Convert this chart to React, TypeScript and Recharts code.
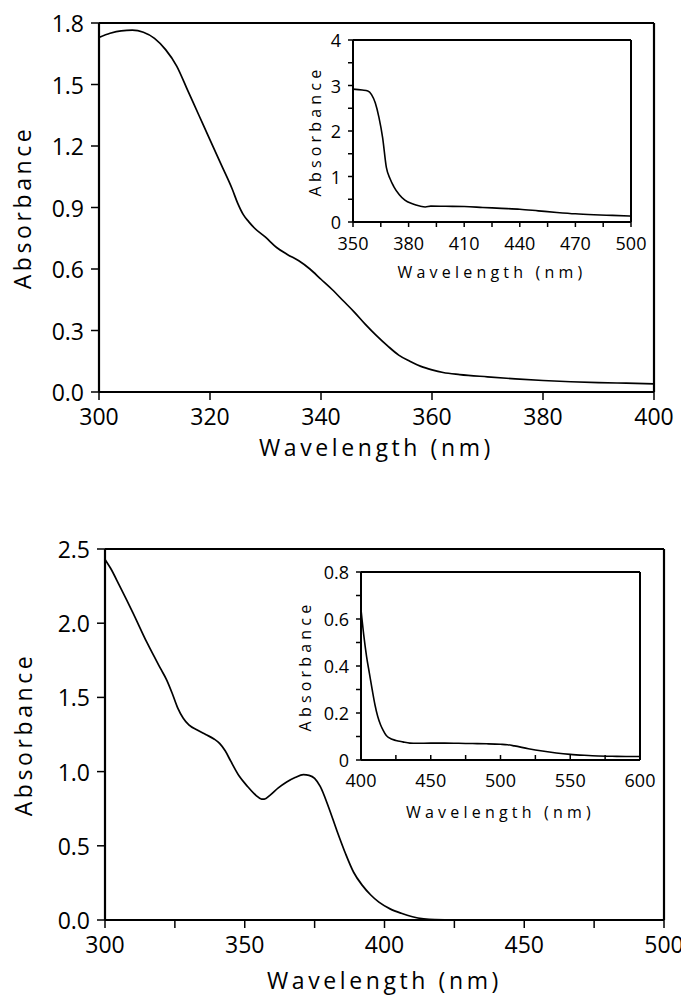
import React from 'react';
import { LineChart, Line, XAxis, YAxis, Label } from 'recharts';

const FONT = '"Open Sans", "Noto Sans", "DejaVu Sans", sans-serif';
const PAGE_W = 681;
const PAGE_H = 996;

// ---------- Panel A (top) main spectrum ----------
const mainAWavelength = [300, 302, 304, 306, 308, 310, 312, 314, 316, 318, 320, 322, 324, 325, 326, 327, 328, 330, 332, 334, 336, 338, 340, 342, 344, 346, 348, 350, 352, 354, 356, 358, 360, 362, 365, 370, 375, 380, 385, 390, 395, 400];
const mainAAbsorbance = [1.73, 1.75, 1.762, 1.765, 1.755, 1.725, 1.67, 1.59, 1.47, 1.35, 1.23, 1.11, 0.99, 0.92, 0.865, 0.83, 0.8, 0.755, 0.705, 0.67, 0.64, 0.6, 0.55, 0.5, 0.445, 0.39, 0.33, 0.275, 0.225, 0.18, 0.15, 0.125, 0.108, 0.095, 0.085, 0.074, 0.064, 0.056, 0.05, 0.046, 0.043, 0.04];
const mainAXTicks = [300, 320, 340, 360, 380, 400];
const mainAXLabels = [300, 320, 340, 360, 380, 400];
const mainAYTicks = [0, 0.3, 0.6, 0.9, 1.2, 1.5, 1.8];
const mainAYLabels = [0, 0.3, 0.6, 0.9, 1.2, 1.5, 1.8];

// ---------- Panel A inset ----------
const insetAWavelength = [350, 355, 358, 360, 362, 364, 366, 368, 370, 372, 375, 378, 382, 386, 389, 392, 400, 410, 420, 430, 440, 450, 460, 470, 480, 490, 500];
const insetAAbsorbance = [2.92, 2.9, 2.88, 2.8, 2.62, 2.3, 1.85, 1.2, 0.95, 0.78, 0.6, 0.48, 0.4, 0.35, 0.33, 0.35, 0.345, 0.34, 0.32, 0.3, 0.28, 0.245, 0.21, 0.18, 0.16, 0.145, 0.13];
const insetAXTicks = [350, 365, 380, 395, 410, 425, 440, 455, 470, 485, 500];
const insetAXLabels = [350, 380, 410, 440, 470, 500];
const insetAYTicks = [0, 0.5, 1, 1.5, 2, 2.5, 3, 3.5, 4];
const insetAYLabels = [0, 1, 2, 3, 4];

// ---------- Panel B (bottom) main spectrum ----------
const mainBWavelength = [300, 302, 305, 310, 315, 320, 322, 324, 326, 328, 330, 333, 336, 339, 341, 343, 345, 348, 351, 354, 356, 357, 359, 362, 365, 368, 371, 373, 375, 377, 380, 383, 386, 389, 392, 395, 398, 402, 406, 410, 414, 418, 425, 450, 500];
const mainBAbsorbance = [2.43, 2.37, 2.26, 2.07, 1.87, 1.69, 1.62, 1.53, 1.43, 1.36, 1.315, 1.28, 1.25, 1.22, 1.19, 1.14, 1.07, 0.97, 0.9, 0.84, 0.815, 0.815, 0.84, 0.89, 0.93, 0.96, 0.98, 0.975, 0.955, 0.9, 0.76, 0.6, 0.45, 0.32, 0.235, 0.17, 0.12, 0.075, 0.045, 0.022, 0.008, 0.002, 0, 0, 0];
const mainBXTicks = [300, 325, 350, 375, 400, 425, 450, 475, 500];
const mainBXLabels = [300, 350, 400, 450, 500];
const mainBYTicks = [0, 0.5, 1, 1.5, 2, 2.5];
const mainBYLabels = [0, 0.5, 1, 1.5, 2, 2.5];

// ---------- Panel B inset ----------
const insetBWavelength = [400, 402, 404, 406, 408, 410, 412, 414, 416, 418, 420, 425, 430, 435, 440, 450, 460, 470, 480, 490, 500, 505, 510, 520, 530, 540, 550, 560, 570, 580, 590, 600];
const insetBAbsorbance = [0.64, 0.53, 0.44, 0.37, 0.3, 0.235, 0.185, 0.15, 0.125, 0.105, 0.095, 0.083, 0.077, 0.072, 0.071, 0.072, 0.072, 0.071, 0.07, 0.069, 0.067, 0.065, 0.06, 0.048, 0.038, 0.03, 0.024, 0.02, 0.017, 0.016, 0.015, 0.015];
const insetBXTicks = [400, 425, 450, 475, 500, 525, 550, 575, 600];
const insetBXLabels = [400, 450, 500, 550, 600];
const insetBYTicks = [0, 0.1, 0.2, 0.3, 0.4, 0.5, 0.6, 0.7, 0.8];
const insetBYLabels = [0, 0.2, 0.4, 0.6, 0.8];

const xTitle = 'Wavelength (nm)';
const yTitle = 'Absorbance';

type Rect = { left: number; top: number; right: number; bottom: number };

type PanelProps = {
  wl: number[];
  abs: number[];
  rect: Rect;
  xDomain: [number, number];
  xTicks: number[];
  xLabels: number[];
  yDomain: [number, number];
  yTicks: number[];
  yLabels: number[];
  fmtY: (v: number) => string;
  tickFont: number;
  titleFont: number;
  spacing: number;
  tickLen: number;
  xInward: boolean;
  xLabelDy: number;
  yLabelDx: number;
  xTitleDy: number;
  yTitleX: number;
  frame: number;
  lineWidth: number;
};

function Panel(p: PanelProps) {
  const data = p.wl.map((w, i) => ({ w, a: p.abs[i] }));
  const r = p.rect;
  // each axis takes 1px of room, so margins are reduced by 1 on each side
  const margin = { top: r.top - 1, left: r.left - 1, right: PAGE_W - r.right - 1, bottom: PAGE_H - r.bottom - 1 };
  const cx = (r.left + r.right) / 2;
  const cy = (r.top + r.bottom) / 2;

  const XTick = (t: any) => {
    const { x, y, payload } = t;
    const v = payload.value;
    const show = p.xLabels.includes(v);
    return (
      <g>
        <line x1={x} x2={x} y1={y} y2={p.xInward ? y - p.tickLen : y + p.tickLen} stroke="#000" strokeWidth={1.5} />
        {show && (
          <text x={x} y={y + p.xLabelDy} textAnchor="middle" dominantBaseline="central" fontFamily={FONT} fontSize={p.tickFont} fill="#000">
            {String(v)}
          </text>
        )}
      </g>
    );
  };

  const YTick = (t: any) => {
    const { x, y, payload } = t;
    const v = payload.value;
    const show = p.yLabels.includes(v);
    return (
      <g>
        <line x1={x} x2={x - p.tickLen} y1={y} y2={y} stroke="#000" strokeWidth={1.5} />
        {show && (
          <text x={x - p.yLabelDx} y={y} textAnchor="end" dominantBaseline="central" fontFamily={FONT} fontSize={p.tickFont} fill="#000">
            {p.fmtY(v)}
          </text>
        )}
      </g>
    );
  };

  const axisLine = { stroke: '#000', strokeWidth: p.frame };

  return (
    <div style={{ position: 'absolute', left: 0, top: 0 }}>
      <LineChart width={PAGE_W} height={PAGE_H} data={data} margin={margin}>
        <XAxis
          dataKey="w"
          type="number"
          domain={p.xDomain}
          ticks={p.xTicks}
          interval={0}
          allowDataOverflow
          height={1}
          tickSize={0}
          tickMargin={0}
          tickLine={false}
          axisLine={axisLine}
          tick={XTick}
        >
          <Label
            content={() => (
              <text
                x={cx}
                y={r.bottom + p.xTitleDy}
                textAnchor="middle"
                dominantBaseline="central"
                fontFamily={FONT}
                fontSize={p.titleFont}
                fill="#000"
                style={{ letterSpacing: `${p.spacing}px` }}
              >
                {xTitle}
              </text>
            )}
          />
        </XAxis>
        <XAxis xAxisId="top" orientation="top" type="number" domain={p.xDomain} height={1} tick={false} tickLine={false} axisLine={axisLine} />
        <YAxis
          type="number"
          domain={p.yDomain}
          ticks={p.yTicks}
          interval={0}
          allowDataOverflow
          width={1}
          tickSize={0}
          tickMargin={0}
          tickLine={false}
          axisLine={axisLine}
          tick={YTick}
        >
          <Label
            content={() => (
              <text
                transform={`translate(${p.yTitleX}, ${cy}) rotate(-90)`}
                textAnchor="middle"
                dominantBaseline="central"
                fontFamily={FONT}
                fontSize={p.titleFont}
                fill="#000"
                style={{ letterSpacing: `${p.spacing}px` }}
              >
                {yTitle}
              </text>
            )}
          />
        </YAxis>
        <YAxis yAxisId="right" orientation="right" type="number" domain={p.yDomain} width={1} tick={false} tickLine={false} axisLine={axisLine} />
        <Line type="monotone" dataKey="a" stroke="#000" strokeWidth={p.lineWidth} dot={false} activeDot={false} isAnimationActive={false} />
      </LineChart>
    </div>
  );
}

const fmt1 = (v: number) => v.toFixed(1);
const fmtInt = (v: number) => String(v);
const fmtInsetB = (v: number) => (v === 0 ? '0' : v.toFixed(1));

export default function App() {
  return (
    <div style={{ position: 'absolute', left: 0, top: 0, width: PAGE_W, height: PAGE_H, background: '#fff' }}>
      <Panel
        wl={mainAWavelength}
        abs={mainAAbsorbance}
        rect={{ left: 99, top: 23, right: 654, bottom: 392 }}
        xDomain={[300, 400]}
        xTicks={mainAXTicks}
        xLabels={mainAXLabels}
        yDomain={[0, 1.8]}
        yTicks={mainAYTicks}
        yLabels={mainAYLabels}
        fmtY={fmt1}
        tickFont={23}
        titleFont={23}
        spacing={3.6}
        tickLen={8}
        xInward={false}
        xLabelDy={24}
        yLabelDx={15}
        xTitleDy={55}
        yTitleX={22}
        frame={2.2}
        lineWidth={1.7}
      />
      <Panel
        wl={insetAWavelength}
        abs={insetAAbsorbance}
        rect={{ left: 353, top: 40, right: 631, bottom: 222 }}
        xDomain={[350, 500]}
        xTicks={insetAXTicks}
        xLabels={insetAXLabels}
        yDomain={[0, 4]}
        yTicks={insetAYTicks}
        yLabels={insetAYLabels}
        fmtY={fmtInt}
        tickFont={18}
        titleFont={16}
        spacing={4.2}
        tickLen={5}
        xInward={false}
        xLabelDy={21}
        yLabelDx={12}
        xTitleDy={50}
        yTitleX={315}
        frame={2}
        lineWidth={1.6}
      />
      <Panel
        wl={mainBWavelength}
        abs={mainBAbsorbance}
        rect={{ left: 105, top: 549, right: 664, bottom: 920 }}
        xDomain={[300, 500]}
        xTicks={mainBXTicks}
        xLabels={mainBXLabels}
        yDomain={[0, 2.5]}
        yTicks={mainBYTicks}
        yLabels={mainBYLabels}
        fmtY={fmt1}
        tickFont={23}
        titleFont={23}
        spacing={3.6}
        tickLen={8}
        xInward={false}
        xLabelDy={24}
        yLabelDx={15}
        xTitleDy={60}
        yTitleX={23}
        frame={2.2}
        lineWidth={1.7}
      />
      <Panel
        wl={insetBWavelength}
        abs={insetBAbsorbance}
        rect={{ left: 361, top: 572, right: 640, bottom: 760 }}
        xDomain={[400, 600]}
        xTicks={insetBXTicks}
        xLabels={insetBXLabels}
        yDomain={[0, 0.8]}
        yTicks={insetBYTicks}
        yLabels={insetBYLabels}
        fmtY={fmtInsetB}
        tickFont={18}
        titleFont={16}
        spacing={4.2}
        tickLen={5}
        xInward={true}
        xLabelDy={20}
        yLabelDx={12}
        xTitleDy={52}
        yTitleX={305}
        frame={2}
        lineWidth={1.6}
      />
    </div>
  );
}
